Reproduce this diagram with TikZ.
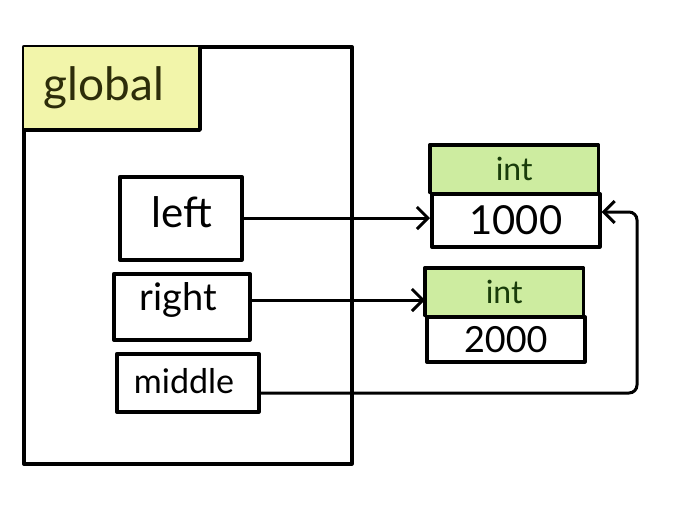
\documentclass[tikz,border=0pt]{standalone}
\usepackage{fontspec}
\setmainfont{Lato}
\usetikzlibrary{arrows.meta}
\definecolor{hlyellow}{RGB}{242,245,170}
\definecolor{hlgreen}{RGB}{205,236,160}
\definecolor{olive}{RGB}{45,45,10}
\definecolor{dkgreen}{RGB}{25,60,10}
\tikzset{
  ink/.style={line width=3.6pt, draw=black, line cap=round, line join=round},
  varbox/.style={ink, rectangle, inner sep=0pt},
  conn/.style={line width=3pt, line cap=round, -{Straight Barb[length=11pt,width=22pt,line width=3pt]}},
}
\begin{document}
\begin{tikzpicture}[x=1pt,y=-1pt]
\useasboundingbox (0,0) rectangle (679,523);
% global frame
\node[ink, minimum width=328pt, minimum height=417pt, anchor=north west] (global) at (22,45) {};
\node[fill=hlyellow, draw=none, minimum width=175pt, minimum height=82pt, anchor=north west] (glabelbg) at (24,47) {};
\draw[ink] (24,130) -- (200,130) -- (200,48);
\node[text=olive, font=\fontsize{46}{46}\selectfont] (glabel) at (104,88) {global};
% variable boxes
\node[varbox, minimum width=122pt, minimum height=83pt, anchor=north west] (left) at (118,175) {};
\node[font=\fontsize{42}{42}\selectfont] (lefttxt) at (182,212) {left};
\node[varbox, minimum width=136pt, minimum height=66pt, anchor=north west] (right) at (112,272) {};
\node[font=\fontsize{38}{38}\selectfont] (righttxt) at (178,300) {right};
\node[varbox, minimum width=142pt, minimum height=58pt, anchor=north west] (middle) at (115,352) {};
\node[font=\fontsize{34}{34}\selectfont] (middletxt) at (184,381) {middle};
% int box 1
\node[fill=hlgreen, minimum width=168pt, minimum height=47pt, anchor=north west, inner sep=0pt] (h1) at (430,145) {};
\node[ink, minimum width=168pt, minimum height=53pt, anchor=north west, inner sep=0pt] (v1) at (430,192) {};
\draw[ink] (h1.north west) -- (h1.north east) -- (h1.south east);
\draw[ink] (h1.north west) -- (h1.south west);
\node[text=dkgreen, font=\fontsize{32}{32}\selectfont] (t1) at (h1.center) {int};
\node[font=\fontsize{40}{40}\selectfont] (n1) at (v1.center) {1000};
% int box 2
\node[fill=hlgreen, minimum width=158pt, minimum height=47pt, anchor=north west, inner sep=0pt] (h2) at (425,268) {};
\node[ink, minimum width=158pt, minimum height=45pt, anchor=north west, inner sep=0pt] (v2) at (425,315) {};
\draw[ink] (h2.north west) -- (h2.north east) -- (h2.south east);
\draw[ink] (h2.north west) -- (h2.south west);
\node[text=dkgreen, font=\fontsize{32}{32}\selectfont] (t2) at (h2.center) {int};
\node[font=\fontsize{36}{36}\selectfont] (n2) at (v2.center) {2000};
% connectors
\draw[conn] (left.east |- 0,218) -- (v1.west |- 0,218);
\draw[conn] (right.east |- 0,300) -- (h2.west |- 0,300);
\coordinate (c1) at (637,393);
\coordinate (c2) at (637,212);
\draw[conn, rounded corners=8pt] (middle.east |- 0,393) -- (c1) -- (c2) -- (v1.east |- 0,212);
\end{tikzpicture}
\end{document}
